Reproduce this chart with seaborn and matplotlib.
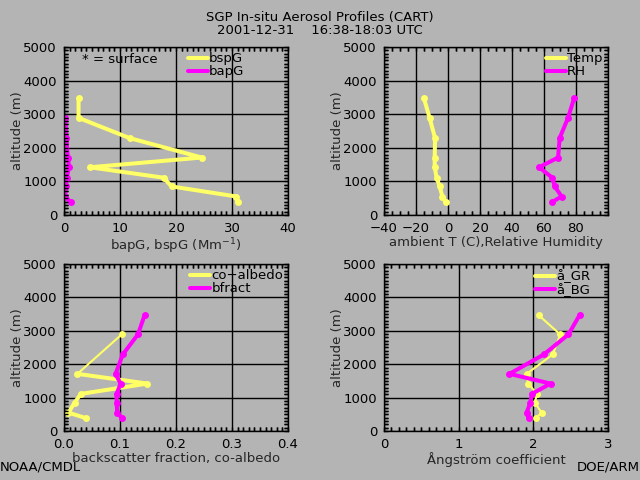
import numpy as np
import matplotlib
matplotlib.use("Agg")
import matplotlib.pyplot as plt
import seaborn as sns
from matplotlib.lines import Line2D
from matplotlib.ticker import MultipleLocator, FuncFormatter

# flight levels (m) shared by all profiles
altitude = [3470, 2890, 2290, 1710, 1420, 1110, 850, 550, 380]

# panel 1: scattering / absorption (Mm-1)
bspg = [2.6, 2.6, 11.7, 24.6, 4.6, 17.8, 19.2, 30.8, 31.0]
bapg = [np.nan, 0.25, 0.4, 0.7, 0.9, 0.5, 0.3, 0.25, 1.2]

# panel 2: temperature (C) and RH (%)
temp = [-15.0, -11.5, -8.1, -8.3, -8.3, -7.1, -5.2, -3.5, -1.5]
rh = [78.8, 75.0, 69.8, 68.8, 56.9, 65.2, 66.7, 71.0, 64.8]

# panel 3: co-albedo and backscatter fraction
coalb = [np.nan, 0.103, np.nan, 0.024, 0.149, 0.030, 0.019, 0.008, 0.040]
bfract = [0.144, 0.132, 0.105, 0.092, 0.101, 0.094, 0.094, 0.095, 0.104]

# panel 4: Angstrom exponents
ang_gr = [2.07, 2.36, 2.26, 1.91, 1.93, 2.05, 2.02, 2.11, 2.03]
ang_bg = [2.62, 2.47, 2.14, 1.68, 2.23, 1.98, 1.96, 1.91, 1.94]

title_lines = ["SGP In-situ Aerosol Profiles (CART)", "2001-12-31    16:38-18:03 UTC"]

BG = "#b4b4b4"
YELLOW = "#ffff66"
MAGENTA = "#ff00ff"
FS = 9.5
THICK = 2.9

sns.set_theme(style="ticks", rc={"axes.facecolor": BG, "figure.facecolor": BG,
                                 "axes.edgecolor": "black", "text.color": "black",
                                 "xtick.color": "black", "ytick.color": "black"})
plt.rcParams["font.family"] = ["DejaVu Sans"]

fig = plt.figure(figsize=(6.4, 4.8), dpi=100)
boxes = [[0.1, 0.5521, 0.35, 0.35], [0.6, 0.5521, 0.35, 0.35],
         [0.1, 0.1021, 0.35, 0.348], [0.6, 0.1021, 0.35, 0.348]]
axes = [fig.add_axes(b) for b in boxes]


def style_axes(ax, xlim, major, minor, xlabel):
    for s in ax.spines.values():
        s.set_color("black")
        s.set_linewidth(1.0)
    ax.set_xlabel(xlabel, fontsize=FS, labelpad=1)
    ax.set_ylabel("altitude (m)", fontsize=FS)
    ax.yaxis.set_label_coords(-0.18, 0.5)
    ax.grid(True, which="major", color="black", lw=1.0)
    ax.set_axisbelow(True)
    ax.set_xlim(*xlim)
    ax.set_ylim(0, 5000)
    ax.set_xticks(np.arange(xlim[0], xlim[1] + major / 2, major))
    ax.set_yticks(range(0, 5001, 1000))
    ax.xaxis.set_minor_locator(MultipleLocator(minor))
    ax.yaxis.set_minor_locator(MultipleLocator(100))
    ax.tick_params(which="major", length=0, pad=5, labelsize=FS)
    ax.tick_params(which="minor", direction="in", length=3, width=1.0,
                   top=True, right=True, bottom=True, left=True)
    # IDL-style inward ticks on all four edges, drawn as short segments
    xs = np.arange(xlim[0], xlim[1] + minor / 2, minor)
    ys = np.arange(0, 5001, 100)
    tx = ax.get_xaxis_transform()
    ty = ax.get_yaxis_transform()
    kw = dict(colors="black", lw=1.0, zorder=2.6, clip_on=False)
    ax.vlines(xs, 0, 0.024, transform=tx, **kw)
    ax.vlines(xs, 0.976, 1, transform=tx, **kw)
    ax.hlines(ys, 0, 0.018, transform=ty, **kw)
    ax.hlines(ys, 0.982, 1, transform=ty, **kw)
    ax.set_xlim(*xlim)
    ax.set_ylim(0, 5000)


def profile(ax, x, color, lw):
    sns.lineplot(x=x, y=altitude, sort=False, estimator=None, color=color, lw=lw,
                 marker="o", markersize=5, markeredgewidth=0, ax=ax)


def add_legend(ax, labels, x0):
    handles = [Line2D([], [], color=YELLOW, lw=THICK), Line2D([], [], color=MAGENTA, lw=THICK)]
    ax.legend(handles, labels, loc="upper left", bbox_to_anchor=(x0, 1.0), frameon=False,
              handlelength=1.5, handletextpad=0.1, labelspacing=0.0, fontsize=FS,
              borderaxespad=0.2, borderpad=0.2)


# panel 1
ax = axes[0]
profile(ax, bspg, YELLOW, THICK)
profile(ax, bapg, MAGENTA, THICK)
add_legend(ax, ["bspG", "bapG"], 0.53)
ax.text(0.08, 0.925, "* = surface", transform=ax.transAxes, fontsize=FS, va="center")
style_axes(ax, (0, 40), 10, 1, "bapG, bspG (Mm$^{-1}$)")

# panel 2
ax = axes[1]
profile(ax, temp, YELLOW, THICK)
profile(ax, rh, MAGENTA, THICK)
add_legend(ax, ["Temp.", "RH"], 0.70)
style_axes(ax, (-40, 100), 20, 5, "ambient T (C),Relative Humidity")
ax.xaxis.set_major_formatter(
    FuncFormatter(lambda v, p: "" if v >= 100 else f"{v:g}".replace("-", "\u2212")))

# panel 3: thin line joins across gaps, thick line breaks at them
ax = axes[2]
profile(ax, coalb, YELLOW, 1.5)
ax.plot(coalb, altitude, color=YELLOW, lw=THICK)
profile(ax, bfract, MAGENTA, THICK)
add_legend(ax, ["co\u2212albedo", "bfract"], 0.54)
style_axes(ax, (0, 0.4), 0.1, 0.01, "backscatter fraction, co-albedo")

# panel 4
ax = axes[3]
profile(ax, ang_gr, YELLOW, 1.5)
profile(ax, ang_bg, MAGENTA, THICK)
add_legend(ax, ["\u00e5_GR", "\u00e5_BG"], 0.65)
style_axes(ax, (0, 3), 1, 0.1, "\u00c5ngstr\u00f6m coefficient")

fig.text(0.5, 1 - 18 / 480, title_lines[0], ha="center", va="center", fontsize=FS)
fig.text(0.5, 1 - 31 / 480, title_lines[1], ha="center", va="center", fontsize=FS)
fig.text(0.0, 1 - 467 / 480, "NOAA/CMDL", ha="left", va="center", fontsize=FS)
fig.text(1.0, 1 - 467 / 480, "DOE/ARM", ha="right", va="center", fontsize=FS)

fig.savefig("out.png", dpi=100, facecolor=BG)
